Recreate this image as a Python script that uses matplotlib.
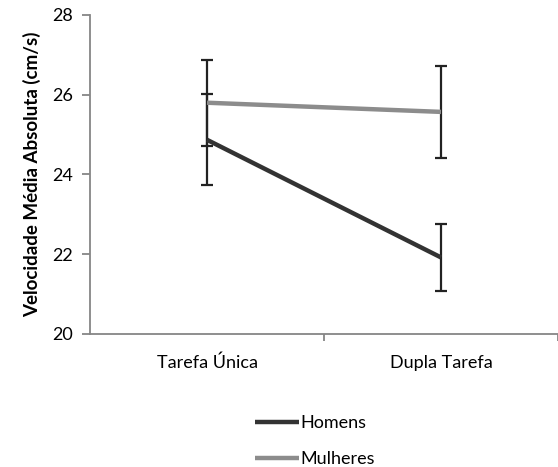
import matplotlib.pyplot as plt
import numpy as np

plt.rcParams['font.family'] = ['Lato', 'DejaVu Sans']

categories = ['Tarefa Única', 'Dupla Tarefa']
homens = [24.87, 21.92]
homens_err = [1.14, 0.85]
mulheres = [25.80, 25.57]
mulheres_err = [1.08, 1.16]

fig = plt.figure(figsize=(5.58, 4.67), dpi=100)
ax = fig.add_axes([0.1613, 0.2848, 0.8387, 0.6831])

x = np.arange(1, len(categories) + 1)

# error bars first, lines on top
ax.errorbar(x, homens, yerr=homens_err, fmt='none', ecolor='#222222',
            elinewidth=1.6, capsize=4, capthick=1.6, zorder=2)
ax.errorbar(x, mulheres, yerr=mulheres_err, fmt='none', ecolor='#222222',
            elinewidth=1.6, capsize=4, capthick=1.6, zorder=2)
ax.plot(x, homens, color='#333333', lw=3.2, label='Homens', zorder=3,
        solid_capstyle='butt')
ax.plot(x, mulheres, color='#8c8c8c', lw=3.2, label='Mulheres', zorder=3,
        solid_capstyle='butt')

ax.set_xlim(0.5, 2.5)
ax.set_ylim(20, 28)
ax.set_yticks([20, 22, 24, 26, 28])
ax.set_xticks(x)
ax.set_xticklabels(categories)
ax.set_xticks([1.5, 2.5], minor=True)

for s in ['top', 'right']:
    ax.spines[s].set_visible(False)
for s in ['left', 'bottom']:
    ax.spines[s].set_color('#868686')
    ax.spines[s].set_linewidth(1.3)

ax.tick_params(axis='y', colors='#868686', labelcolor='black', labelsize=13,
               length=6, width=1.3, pad=6)
ax.tick_params(axis='x', which='major', length=0, labelsize=13, pad=15)
ax.tick_params(axis='x', which='minor', length=5, width=1.3, colors='#868686')

ax.set_ylabel('Velocidade Média Absoluta (cm/s)', fontsize=13.5,
              fontweight='bold', labelpad=8)

fig.legend(loc='center', bbox_to_anchor=(0.565, 0.055), frameon=False,
           fontsize=13, handlelength=2.4, handletextpad=0.1, labelspacing=1.1)

fig.savefig('out.png', dpi=100)
